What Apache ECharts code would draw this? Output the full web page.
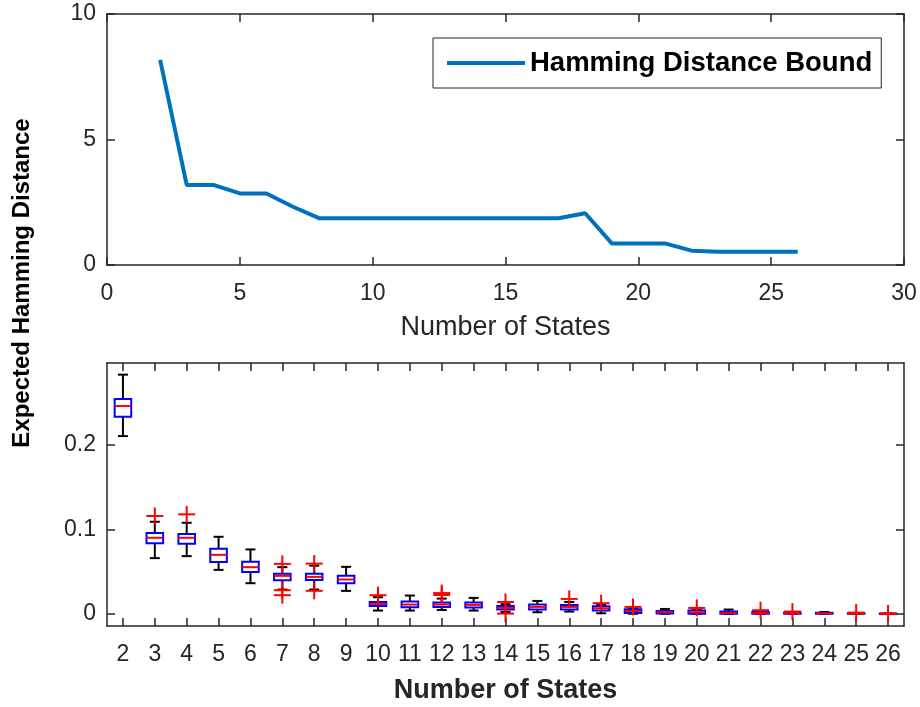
<!DOCTYPE html>
<html>
<head>
<meta charset="utf-8">
<script src="https://cdn.jsdelivr.net/npm/echarts@6/dist/echarts.min.js"></script>
<style>
html,body{margin:0;padding:0;background:#fff;}
#main{width:920px;height:707px;}
</style>
</head>
<body>
<div id="main"></div>
<script>
// ---- Top panel: bound line ----
const boundStates = [2,3,4,5,6,7,8,9,10,11,12,13,14,15,16,17,18,19,20,21,22,23,24,25,26];
const boundValues = [8.17,3.19,3.19,2.85,2.85,2.32,1.86,1.86,1.86,1.86,1.86,1.86,1.86,1.86,1.86,1.86,2.06,0.86,0.86,0.86,0.57,0.53,0.53,0.53,0.53];
const topXTicks = [0,5,10,15,20,25,30];
const topYTicks = [0,5,10];

// ---- Bottom panel: box plots ----
const categories = ['2','3','4','5','6','7','8','9','10','11','12','13','14','15','16','17','18','19','20','21','22','23','24','25','26'];
const whiskerLow  = [0.2105,0.0659,0.0683,0.0520,0.0362,0.0287,0.0287,0.0271,0.0038,0.0038,0.0045,0.0038,0.0021,0.0018,0.0026,0.0006,0.0000,0.0000,0.0000,0.0000,0.0000,0.0000,0.0000,0.0000,0.0000];
const quart1      = [0.2334,0.0834,0.0829,0.0612,0.0496,0.0398,0.0401,0.0362,0.0093,0.0077,0.0081,0.0074,0.0050,0.0050,0.0050,0.0038,0.0010,0.0002,0.0000,0.0000,0.0000,0.0000,0.0000,0.0000,0.0000];
const medians     = [0.2461,0.0900,0.0900,0.0698,0.0552,0.0449,0.0437,0.0406,0.0116,0.0109,0.0109,0.0105,0.0069,0.0081,0.0081,0.0065,0.0033,0.0018,0.0018,0.0010,0.0006,0.0004,0.0004,0.0002,0.0000];
const quart3      = [0.2544,0.0956,0.0944,0.0770,0.0615,0.0473,0.0473,0.0449,0.0140,0.0145,0.0133,0.0133,0.0093,0.0109,0.0105,0.0089,0.0053,0.0033,0.0038,0.0026,0.0021,0.0014,0.0012,0.0006,0.0002];
const whiskerHigh = [0.2833,0.1090,0.1078,0.0912,0.0762,0.0552,0.0570,0.0556,0.0196,0.0216,0.0180,0.0188,0.0113,0.0152,0.0140,0.0105,0.0065,0.0057,0.0045,0.0050,0.0030,0.0018,0.0021,0.0008,0.0002];
const outlierCats = ['3','4','7','7','7','8','8','10','12','12','14','14','16','17','18','20','22','23','25','26'];
const outlierVals = [0.1158,0.1178,0.0591,0.0279,0.0220,0.0594,0.0272,0.0220,0.0245,0.0222,0.0140,0.0002,0.0176,0.0125,0.0081,0.0069,0.0042,0.0026,0.0014,0.0003];
const bottomYTicks = [0,0.1,0.2];

const FONT = 'Liberation Sans, Arial, Helvetica, sans-serif';
const AX = '#262626';

const chart = echarts.init(document.getElementById('main'), null, {renderer:'canvas'});

const axisLineStyle = {show:true, onZero:false, lineStyle:{color:AX, width:1.5}};
const tickIn = {show:true, inside:true, length:8, lineStyle:{color:AX, width:1.5}};
const lblStyle = {color:AX, fontFamily:FONT, fontSize:23};

const boxData = categories.map((c,i)=>[i, whiskerLow[i], quart1[i], medians[i], quart3[i], whiskerHigh[i]]);
const outData = outlierCats.map((c,i)=>[categories.indexOf(c), outlierVals[i]]);

const option = {
  animation:false,
  backgroundColor:'#fff',
  grid:[
    {left:107, top:14, width:797, height:251},
    {left:107, top:363, width:797, height:263}
  ],
  legend:{
    data:['Hamming Distance Bound'],
    left:433, top:38,
    icon:'rect', itemWidth:78, itemHeight:4,
    borderColor:AX, borderWidth:1, padding:[11,9,11,14],
    backgroundColor:'#fff',
    selectedMode:false,
    textStyle:{color:'#000', fontFamily:FONT, fontSize:27.5, fontWeight:'bold'}
  },
  xAxis:[
    {gridIndex:0, type:'value', min:0, max:30, interval:5, position:'bottom',
     axisLine:axisLineStyle, axisTick:tickIn, splitLine:{show:false},
     axisLabel:Object.assign({margin:17, customValues:topXTicks}, lblStyle),
     name:'Number of States', nameLocation:'middle', nameGap:49,
     nameTextStyle:{color:AX, fontFamily:FONT, fontSize:27}},
    {gridIndex:0, type:'value', min:0, max:30, interval:5, position:'top',
     axisLine:axisLineStyle, axisTick:tickIn, splitLine:{show:false}, axisLabel:{show:false}},
    {gridIndex:1, type:'category', data:categories, position:'bottom', boundaryGap:true,
     axisLine:axisLineStyle, axisTick:Object.assign({alignWithLabel:true}, tickIn),
     splitLine:{show:false},
     axisLabel:Object.assign({margin:17, interval:0}, lblStyle),
     name:'Number of States', nameLocation:'middle', nameGap:51,
     nameTextStyle:{color:AX, fontFamily:FONT, fontSize:27, fontWeight:'bold'}},
    {gridIndex:1, type:'category', data:categories, position:'top', boundaryGap:true,
     axisLine:axisLineStyle, axisTick:Object.assign({alignWithLabel:true}, tickIn),
     splitLine:{show:false}, axisLabel:{show:false}}
  ],
  yAxis:[
    {gridIndex:0, type:'value', min:0, max:10, interval:5, position:'left',
     axisLine:axisLineStyle, axisTick:tickIn, splitLine:{show:false},
     axisLabel:Object.assign({margin:11}, lblStyle)},
    {gridIndex:0, type:'value', min:0, max:10, interval:5, position:'right',
     axisLine:axisLineStyle, axisTick:tickIn, splitLine:{show:false}, axisLabel:{show:false}},
    {gridIndex:1, type:'value', min:-0.0145, max:0.2971, position:'left',
     axisLine:axisLineStyle,
     axisTick:Object.assign({customValues:bottomYTicks}, tickIn),
     splitLine:{show:false},
     axisLabel:Object.assign({margin:11, customValues:bottomYTicks,
       formatter:v=>String(Math.round(v*10)/10)}, lblStyle)},
    {gridIndex:1, type:'value', min:-0.0145, max:0.2971, position:'right',
     axisLine:axisLineStyle,
     axisTick:Object.assign({customValues:bottomYTicks}, tickIn),
     splitLine:{show:false}, axisLabel:{show:false}}
  ],
  graphic:[
    {type:'text', x:22, y:283, rotation:Math.PI/2,
     style:{text:'Expected Hamming Distance', font:'bold 24px '+FONT, fill:'#000',
            align:'center', verticalAlign:'middle'}}
  ],
  series:[
    {name:'Hamming Distance Bound', type:'line', xAxisIndex:0, yAxisIndex:0,
     data:boundStates.map((s,i)=>[s, boundValues[i]]),
     showSymbol:false, symbol:'none',
     lineStyle:{color:'#0072BD', width:4}, itemStyle:{color:'#0072BD'}},
    {type:'custom', xAxisIndex:2, yAxisIndex:2, data:boxData,
     encode:{x:0, y:[1,2,3,4,5]},
     renderItem:function(params, api){
       const i = api.value(0);
       const pL = api.coord([i, api.value(1)]);
       const p1 = api.coord([i, api.value(2)]);
       const pM = api.coord([i, api.value(3)]);
       const p3 = api.coord([i, api.value(4)]);
       const pH = api.coord([i, api.value(5)]);
       const band = api.size([1,0])[0];
       const hw = band*0.26, cw = 5;
       const cx = pM[0];
       const blk = {stroke:'#000', lineWidth:2};
       return {type:'group', children:[
         {type:'line', shape:{x1:cx,y1:pH[1],x2:cx,y2:p3[1]}, style:blk},
         {type:'line', shape:{x1:cx,y1:p1[1],x2:cx,y2:pL[1]}, style:blk},
         {type:'line', shape:{x1:cx-cw,y1:pH[1],x2:cx+cw,y2:pH[1]}, style:blk},
         {type:'line', shape:{x1:cx-cw,y1:pL[1],x2:cx+cw,y2:pL[1]}, style:blk},
         {type:'rect', shape:{x:cx-hw, y:p3[1], width:2*hw, height:Math.max(p1[1]-p3[1],0.5)},
          style:{stroke:'#0000FF', fill:'none', lineWidth:2}},
         {type:'line', shape:{x1:cx-hw,y1:pM[1],x2:cx+hw,y2:pM[1]}, style:{stroke:'#FF0000', lineWidth:2}}
       ]};
     }},
    {type:'custom', xAxisIndex:2, yAxisIndex:2, data:outData, z:5,
     encode:{x:0, y:1},
     renderItem:function(params, api){
       const p = api.coord([api.value(0), api.value(1)]);
       const s = 8.5;
       const st = {stroke:'#FF0000', lineWidth:2};
       return {type:'group', children:[
         {type:'line', shape:{x1:p[0]-s,y1:p[1],x2:p[0]+s,y2:p[1]}, style:st},
         {type:'line', shape:{x1:p[0],y1:p[1]-s,x2:p[0],y2:p[1]+s}, style:st}
       ]};
     }}
  ]
};
chart.setOption(option);
</script>
</body>
</html>
